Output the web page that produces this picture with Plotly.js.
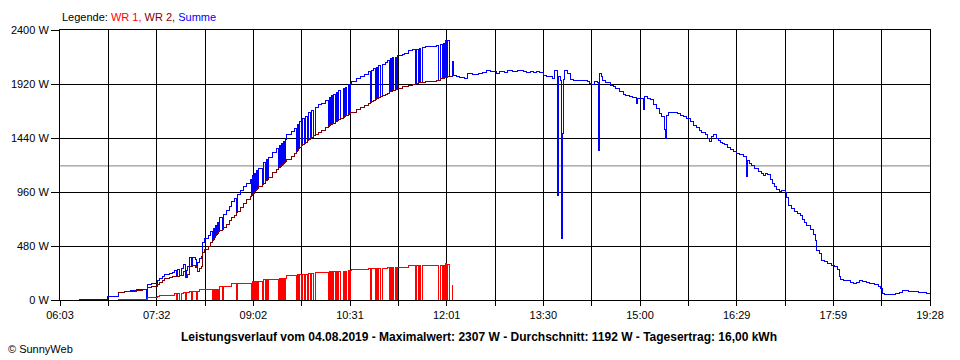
<!DOCTYPE html>
<html>
<head>
<meta charset="utf-8">
<script src="https://cdn.plot.ly/plotly-3.0.1.min.js"></script>
<style>html,body{margin:0;padding:0;background:#fff;}#chart{width:960px;height:360px;}
#chart .scatterlayer .js-line{shape-rendering:crispEdges;}</style>
</head>
<body>
<div id="chart"></div>
<script>
// ---- data ----
const xTickLabels = ['06:03','07:32','09:02','10:31','12:01','13:30','15:00','16:29','17:59','19:28'];
const yTickVals = [0, 480, 960, 1440, 1920, 2400];
const yTickLabels = ['0 W','480 W','960 W','1440 W','1920 W','2400 W'];
const seriesNames = ['WR 1', 'WR 2', 'Summe'];
const reportDate = '04.08.2019';
const maxValue = 2307;
const avgValue = 1192;
const dayYield = '16,00';

// morning: shared time axis for WR 1, WR 2 and Summe
const amTimes = ['06:21','06:47','06:57','07:03','07:08','07:14','07:19','07:23','07:24','07:28',
 '07:33','07:35','07:38','07:40','07:44','07:47','07:49','07:51','07:52','07:54',
 '07:55','07:57','07:59','08:00','08:01','08:03','08:05','08:06','08:08','08:09',
 '08:10','08:12','08:14','08:15','08:17','08:20','08:22','08:24','08:25','08:26',
 '08:27','08:28','08:29','08:30','08:31','08:33','08:34','08:37','08:40','08:42',
 '08:44','08:46','08:47','08:50','08:53','08:56','08:59','09:00','09:01','09:02',
 '09:03','09:04','09:05','09:06','09:07','09:10','09:11','09:13','09:14','09:15',
 '09:16','09:20','09:23','09:25','09:26','09:27','09:28','09:29','09:30','09:31',
 '09:32','09:33','09:37','09:40','09:42','09:43','09:44','09:45','09:46','09:47',
 '09:49','09:50','09:52','09:53','09:55','09:56','09:58','09:59','10:02','10:05',
 '10:09','10:11','10:12','10:13','10:14','10:15','10:16','10:18','10:19','10:20',
 '10:21','10:23','10:25','10:26','10:27','10:28','10:30','10:31','10:32',
 '10:33','10:37','10:41','10:45','10:48','10:50','10:51','10:53','10:55','10:56',
 '10:57','10:58','11:00','11:01','11:04','11:06','11:08','11:09','11:10','11:11',
 '11:12','11:13','11:14','11:15','11:16','11:20','11:22','11:25','11:29','11:32',
 '11:33','11:35','11:36','11:37','11:38','11:41','11:46','11:51','11:53','11:55',
 '11:57','11:58','11:59','12:00','12:01','12:02','12:03','12:06'];

const wr1 = [null,null,6,6,6,6,6,6,24,24,
 30,36,36,36,36,36,59,0,59,0,
 59,65,0,65,65,74,0,74,74,0,
 74,89,89,89,95,95,95,0,95,0,
 95,0,95,0,119,0,119,119,119,150,
 150,0,150,150,150,150,150,0,163,0,
 163,0,163,0,163,0,184,0,184,0,
 184,184,184,0,193,0,193,0,193,0,
 193,222,222,222,0,231,0,231,0,231,
 0,231,0,238,0,238,0,246,246,246,
 246,0,252,0,252,0,256,0,256,0,
 256,0,256,0,256,0,260,0,260,
 273,273,273,273,281,0,281,281,0,281,
 0,281,0,281,281,290,0,290,0,290,
 0,290,0,290,290,290,290,305,305,0,
 305,0,305,0,305,311,311,311,0,310,
 0,310,0,325,0,320,0,133];

const wr2 = [null,null,65,72,80,86,90,92,110,120,
 140,155,175,195,198,205,205,210,212,215,
 218,255,196,196,230,300,296,305,290,296,
 256,284,300,420,450,480,510,530,540,555,
 570,585,595,605,615,630,645,675,710,730,
 755,780,790,820,855,890,920,930,940,950,
 965,975,985,995,1005,1030,1040,1058,1065,1075,
 1085,1130,1160,1175,1180,1185,1195,1205,1215,1225,
 1235,1245,1280,1305,1322,1332,1345,1360,1370,1378,
 1395,1400,1416,1425,1440,1447,1460,1468,1488,1505,
 1530,1543,1550,1556,1562,1568,1573,1584,1590,1596,
 1602,1612,1624,1630,1636,1640,1652,1658,1664,
 1670,1692,1712,1733,1748,1758,1763,1775,1785,1790,
 1795,1800,1810,1815,1827,1835,1849,1853,1857,1862,
 1866,1870,1875,1880,1884,1896,1902,1909,1918,1924,
 1926,1930,1932,1934,1936,1940,1946,1952,1955,1965,
 1970,1972,1975,1980,1982,1983,1984,1985];

const summeAM = [6,30,71,78,86,92,96,0,134,144,
 170,191,211,231,234,241,264,210,271,215,
 277,320,196,261,295,374,296,379,364,296,
 330,373,389,509,545,575,605,530,635,555,
 665,585,690,605,734,630,764,794,829,880,
 905,780,940,970,1005,1040,1070,930,1103,950,
 1128,975,1148,995,1168,1030,1224,1058,1249,1075,
 1269,1314,1344,1175,1373,1185,1388,1205,1408,1225,
 1428,1467,1502,1527,1322,1563,1345,1591,1370,1609,
 1395,1631,1416,1663,1440,1685,1460,1714,1734,1751,
 1776,1543,1802,1556,1814,1568,1829,1584,1846,1596,
 1858,1612,1880,1630,1892,1640,1912,1658,1924,
 1943,1965,1985,2006,2029,1758,2044,2056,1785,2071,
 1795,2081,1810,2096,2108,2125,1849,2143,1857,2152,
 1866,2160,1875,2170,2174,2186,2192,2214,2223,1924,
 2231,1930,2237,1934,2241,2251,2257,2263,1955,2275,
 1970,2282,1975,2305,1982,2303,1984,2118];

// afternoon: Summe only
const pmTimes = ['12:07','12:10','12:13','12:17','12:20','12:25','12:30','12:34','12:38','12:41',
 '12:44','12:47','12:50','12:54','12:57','13:02','13:06','13:09','13:12','13:15',
 '13:18','13:21','13:24','13:27','13:30','13:33','13:36','13:39','13:41','13:43',
 '13:44','13:46','13:47','13:48','13:49','13:50','13:53','13:55','13:58','14:04',
 '14:08','14:11','14:13','14:15','14:18','14:20','14:21','14:22','14:24','14:25',
 '14:28','14:32','14:35','14:37','14:41','14:44','14:46','14:50','14:53','14:56',
 '14:57','15:00','15:03','15:04','15:07','15:09','15:12','15:15','15:18','15:20',
 '15:22','15:23','15:24','15:26','15:30','15:34','15:37','15:40','15:43','15:46',
 '15:49','15:52','15:55','15:57','16:00','16:02','16:04','16:06','16:08','16:10',
 '16:12','16:14','16:16','16:18','16:21','16:23','16:26','16:29','16:32','16:35',
 '16:37','16:38','16:39','16:41','16:43','16:46','16:49','16:52','16:54','16:56',
 '16:58','17:00','17:02','17:04','17:06','17:09','17:11','17:14','17:15','17:17',
 '17:20','17:23','17:25','17:28','17:30','17:32','17:34','17:37','17:40','17:42',
 '17:43','17:46','17:48','17:50','17:53','17:57','18:00','18:02','18:04','18:05',
 '18:08','18:11','18:14','18:17','18:20','18:23','18:26','18:29','18:32','18:37',
 '18:40','18:42','18:44','18:46','18:51','18:56','19:00','19:03','19:08','19:12',
 '19:17','19:21','19:25','19:28'];

const summePM = [2000,1990,1975,1968,2009,2005,2015,2022,2044,2035,
 2027,2015,2030,2025,2036,2030,2040,2036,2030,2020,
 2030,2025,2030,2020,2000,1990,1985,1970,2044,930,
 1990,1955,550,1480,1960,2044,2010,1960,1955,1955,
 1950,1945,1925,1920,1940,1935,1327,2015,1985,1955,
 1935,1911,1895,1880,1850,1830,1822,1810,1800,1750,
 1795,1793,1689,1807,1795,1778,1740,1700,1660,1630,
 1520,1440,1640,1670,1668,1660,1644,1630,1610,1585,
 1555,1530,1505,1490,1467,1440,1410,1450,1467,1440,
 1420,1404,1392,1378,1360,1340,1318,1304,1290,1280,
 1275,1096,1244,1215,1200,1170,1140,1126,1111,1125,
 1118,1067,1037,1007,978,963,970,955,910,844,
 815,790,770,755,718,690,660,630,580,533,
 444,415,355,340,325,311,300,270,210,178,
 175,170,160,150,160,172,165,158,150,140,
 120,100,60,50,50,55,70,83,80,74,
 70,65,55,40];

// ---- helpers ----
function toMin(s){ const p = s.split(':'); return (+p[0])*60 + (+p[1]); }
const xStart = toMin(xTickLabels[0]);
const xEnd = toMin(xTickLabels[xTickLabels.length-1]);
const nGrid = (xTickLabels.length - 1) * 2;
const gridVals = [], gridText = [];
for (let i = 0; i <= nGrid; i++) {
  gridVals.push(xStart + i * (xEnd - xStart) / nGrid);
  gridText.push(i % 2 === 0 ? xTickLabels[i/2] : '');
}
const amX = amTimes.map(toMin);
const pmX = pmTimes.map(toMin);

const traces = [
  {x: amX.concat(pmX), y: summeAM.concat(summePM), name: seriesNames[2], type: 'scatter', mode: 'lines',
   line: {color: '#0000FF', width: 1, shape: 'hv'}, hoverinfo: 'skip'},
  {x: amX, y: wr1, name: seriesNames[0], type: 'scatter', mode: 'lines',
   line: {color: '#FF0000', width: 1, shape: 'hv'}, hoverinfo: 'skip'},
  {x: amX, y: wr2, name: seriesNames[1], type: 'scatter', mode: 'lines',
   line: {color: '#800000', width: 1, shape: 'hv'}, hoverinfo: 'skip'}
];

const FONT = 'Liberation Sans, Arial, sans-serif';
const layout = {
  width: 960, height: 360,
  margin: {l: 60, r: 30, t: 30, b: 60, pad: 0},
  paper_bgcolor: '#ffffff', plot_bgcolor: '#ffffff',
  showlegend: false,
  font: {family: FONT, size: 11, color: '#000'},
  xaxis: {
    range: [xStart, xEnd], tickmode: 'array', tickvals: gridVals, ticktext: gridText,
    showgrid: true, gridcolor: '#000', gridwidth: 1,
    ticks: 'outside', ticklen: 5, tickwidth: 1, tickcolor: '#000',
    showline: true, mirror: true, linecolor: '#000', linewidth: 1,
    zeroline: false, fixedrange: true, tickfont: {family: FONT, size: 11, color: '#000'}
  },
  yaxis: {
    range: [yTickVals[0], yTickVals[yTickVals.length-1]], tickmode: 'array', tickvals: yTickVals, ticktext: yTickLabels,
    showgrid: true, gridcolor: '#000', gridwidth: 1,
    ticks: 'outside', ticklen: 8, tickwidth: 1, tickcolor: '#000',
    showline: true, mirror: true, linecolor: '#000', linewidth: 1,
    zeroline: false, fixedrange: true, tickfont: {family: FONT, size: 11, color: '#000'}
  },
  shapes: [
    {type: 'line', xref: 'paper', x0: 0, x1: 1, yref: 'y', y0: avgValue, y1: avgValue,
     line: {color: '#808080', width: 1}, layer: 'below'}
  ],
  annotations: [
    {xref: 'paper', yref: 'paper', x: 0, y: 1.049, xanchor: 'left', yanchor: 'middle', showarrow: false,
     text: 'Legende: <span style="color:#FF0000">' + seriesNames[0] + ',</span> <span style="color:#800000">' + seriesNames[1] + ',</span> <span style="color:#0000FF">' + seriesNames[2] + '</span>',
     font: {family: FONT, size: 11, color: '#000'}},
    {xref: 'paper', yref: 'paper', x: 0.4816, y: -0.137, xanchor: 'center', yanchor: 'middle', showarrow: false,
     text: '<b>Leistungsverlauf vom ' + reportDate + ' - Maximalwert: ' + maxValue + ' W - Durchschnitt: ' + avgValue + ' W - Tagesertrag: ' + dayYield + ' kWh</b>',
     font: {family: FONT, size: 12, color: '#000'}},
    {xref: 'paper', yref: 'paper', x: -0.0625, y: -0.181, xanchor: 'left', yanchor: 'middle', showarrow: false,
     text: '© SunnyWeb', font: {family: FONT, size: 11, color: '#000'}}
  ]
};

Plotly.newPlot('chart', traces, layout, {displayModeBar: false, staticPlot: true});
</script>
</body>
</html>
